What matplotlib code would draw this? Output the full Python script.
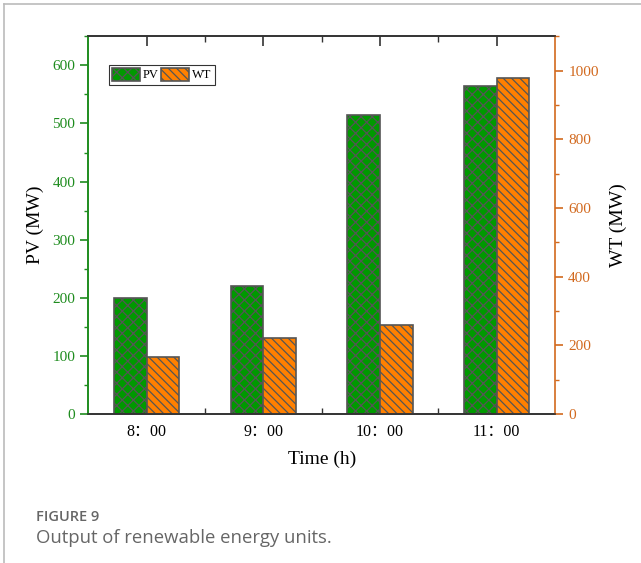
import matplotlib
matplotlib.use("Agg")
import matplotlib.pyplot as plt
from matplotlib.lines import Line2D
from matplotlib.ticker import MultipleLocator, FixedLocator

# hourly output of the renewable units
hours = ["8：00", "9：00", "10：00", "11：00"]
pv_mw = [200, 220, 515, 565]
wt_mw = [167, 220, 260, 980]

serif = ["Liberation Serif", "Noto Sans CJK SC"]
green = "#1E8C1E"
orange = "#D2691E"
edge = "#555555"

plt.rcParams["hatch.linewidth"] = 0.9
plt.rcParams["font.family"] = serif

fig = plt.figure(figsize=(6.41, 5.63), dpi=100)
ax = fig.add_axes([0.1378, 0.2647, 0.728, 0.6708])
ax2 = ax.twinx()

x = list(range(1, len(hours) + 1))
w = 0.28
b1 = ax.bar([i - w / 2 for i in x], pv_mw, w, color="#009900", edgecolor=edge,
            hatch="xxx", linewidth=1.2, label="PV")
b2 = ax2.bar([i + w / 2 for i in x], wt_mw, w, color="#FF8000", edgecolor=edge,
             hatch="\\\\\\\\", linewidth=1.2, label="WT")

ax.set_xlim(0.5, len(hours) + 0.5)
ax.set_ylim(0, 650)
ax2.set_ylim(0, 1100)

# x axis: ticks inward on bottom and top, minor ticks between groups
ax.set_xticks(x)
ax.set_xticklabels(hours, fontsize=11.5, family=serif)
ax.xaxis.set_minor_locator(FixedLocator([i + 0.5 for i in x[:-1]]))
ax.tick_params(axis="x", which="major", direction="in", length=7, width=1.2,
               top=True, pad=7, color="#333333")
ax.tick_params(axis="x", which="minor", direction="in", length=4, width=1.0,
               top=True, color="#333333")

# left axis (PV)
ax.yaxis.set_major_locator(MultipleLocator(100))
ax.yaxis.set_minor_locator(MultipleLocator(50))
ax.tick_params(axis="y", which="major", direction="out", length=6, width=1.2,
               colors=green, labelsize=11)
ax.tick_params(axis="y", which="minor", direction="out", length=3, width=1.0,
               colors=green)

# right axis (WT)
ax2.yaxis.set_major_locator(MultipleLocator(200))
ax2.yaxis.set_minor_locator(MultipleLocator(100))
ax2.tick_params(axis="y", which="major", direction="out", length=6, width=1.2,
                colors=orange, labelsize=11)
ax2.tick_params(axis="y", which="minor", direction="out", length=3, width=1.0,
                colors=orange)

for a in (ax, ax2):
    for s in a.spines.values():
        s.set_linewidth(1.2)
        s.set_color("#333333")
ax2.spines["left"].set_color(green)
ax2.spines["right"].set_color(orange)
ax.spines["left"].set_color(green)
ax.spines["right"].set_visible(False)

ax.set_xlabel("Time (h)", fontsize=14, labelpad=8)
ax.set_ylabel("PV (MW)", fontsize=14, labelpad=6)
ax2.set_ylabel("WT (MW)", fontsize=14, labelpad=8)

leg = ax.legend([b1, b2], ["PV", "WT"], loc="upper left", ncol=2,
                bbox_to_anchor=(0.045, 0.925), fontsize=9,
                frameon=True, fancybox=False, edgecolor="black",
                handlelength=2.2, handleheight=1.2, handletextpad=0.25,
                columnspacing=0.2, borderpad=0.25, borderaxespad=0)
leg.get_frame().set_linewidth(0.8)

# page frame and caption
fig.add_artist(Line2D([0.006, 0.006], [0, 0.993], color="#bbbbbb", lw=1.2,
                      transform=fig.transFigure))
fig.add_artist(Line2D([0.006, 1], [0.993, 0.993], color="#bbbbbb", lw=1.2,
                      transform=fig.transFigure))
fig.text(0.056, 0.081, "FIGURE 9", fontsize=10.5, color="#666666",
         family="Open Sans", fontweight="semibold", va="center")
fig.text(0.056, 0.045, "Output of renewable energy units.", fontsize=13.3,
         color="#666666", family="Open Sans", va="center")

fig.savefig("out.png", dpi=100)
